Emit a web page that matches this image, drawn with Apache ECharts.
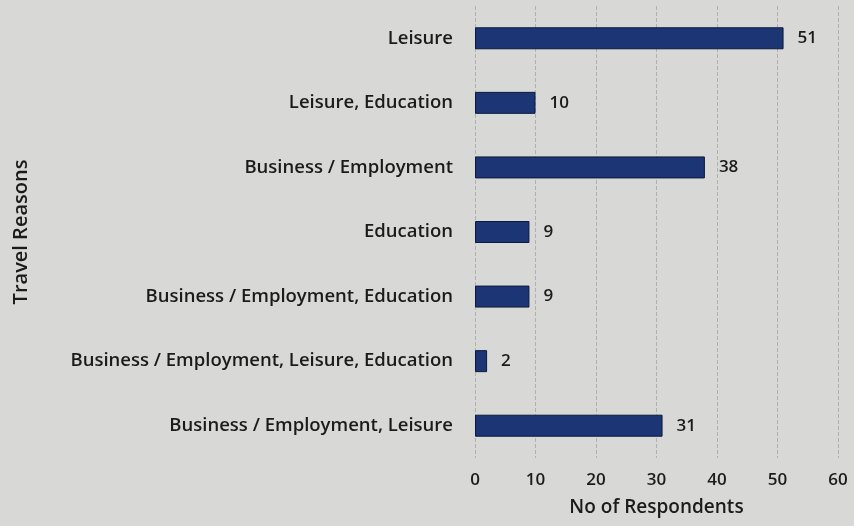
<!DOCTYPE html>
<html>
<head>
<meta charset="utf-8">
<script src="https://cdn.jsdelivr.net/npm/echarts@6/dist/echarts.min.js"></script>
<style>
  html, body { margin: 0; padding: 0; background: #d8d8d6; }
  #chart { width: 854px; height: 526px; }
</style>
</head>
<body>
<div id="chart"></div>
<script>
// categories listed bottom to top (category axis starts at the bottom)
const reasons = [
  'Business / Employment, Leisure',
  'Business / Employment, Leisure, Education',
  'Business / Employment, Education',
  'Education',
  'Business / Employment',
  'Leisure, Education',
  'Leisure'
]
const respondents = [31, 2, 9, 9, 38, 10, 51]
const xTicks = [0, 10, 20, 30, 40, 50, 60]

const myChart = echarts.init(document.getElementById('chart'))
const font = '"Open Sans", sans-serif'
const option = {
  backgroundColor: '#d8d8d6',
  textStyle: { fontFamily: font },
  grid: {
    left: 475,
    right: 16,
    top: 6,
    bottom: 68
  },
  xAxis: {
    type: 'value',
    min: xTicks[0],
    max: xTicks[xTicks.length - 1],
    interval: 10,
    name: 'No of Respondents',
    nameLocation: 'middle',
    nameGap: 40,
    nameTextStyle: { color: '#1b1b1b', fontSize: 19, fontWeight: 600 },
    axisLine: { show: false },
    axisTick: { show: false },
    axisLabel: { color: '#1b1b1b', fontSize: 17, fontWeight: 600, margin: 14 },
    splitLine: { show: true, lineStyle: { color: '#b0b0ae', type: 'dashed', width: 1 } }
  },
  yAxis: {
    type: 'category',
    data: reasons,
    name: 'Travel Reasons',
    nameLocation: 'middle',
    nameGap: 444,
    nameRotate: 90,
    nameTextStyle: { color: '#1b1b1b', fontSize: 20, fontWeight: 600 },
    axisLine: { show: false },
    axisTick: { show: false },
    axisLabel: { color: '#1b1b1b', fontSize: 18.5, fontWeight: 600, margin: 22 }
  },
  series: [{
    type: 'bar',
    data: respondents,
    barWidth: 22,
    itemStyle: { color: '#1b3575', borderColor: '#0d1a3d', borderWidth: 1 },
    label: {
      show: true,
      position: 'right',
      distance: 14,
      color: '#1b1b1b',
      fontSize: 17,
      fontWeight: 600
    }
  }]
}
myChart.setOption(option)
</script>
</body>
</html>
